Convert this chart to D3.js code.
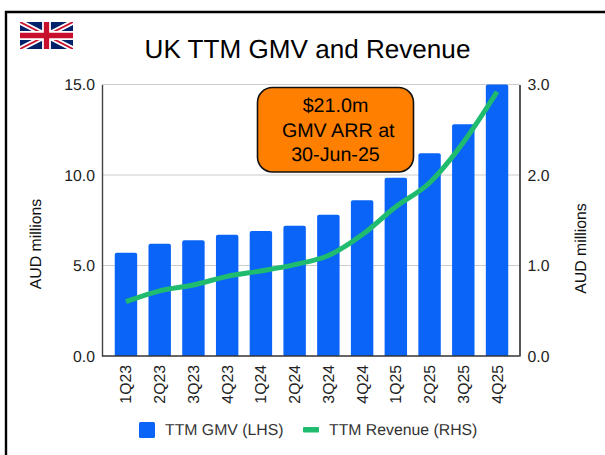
<!DOCTYPE html>
<html><head><meta charset="utf-8">
<script src="https://cdnjs.cloudflare.com/ajax/libs/d3/7.8.5/d3.min.js"></script>
<style>html,body{margin:0;padding:0;background:#fff}svg{display:block}text{font-family:"Liberation Sans",Arial,sans-serif;text-rendering:geometricPrecision;white-space:pre}</style>
</head><body><svg id="c" width="605" height="455"></svg>
<script>
const categories=["1Q23","2Q23","3Q23","4Q23","1Q24","2Q24","3Q24","4Q24","1Q25","2Q25","3Q25","4Q25"];
const gmv=[5.7,6.2,6.4,6.7,6.9,7.2,7.8,8.6,9.85,11.2,12.8,15.0];
const revenue=[0.6,0.72,0.785,0.88,0.94,1.01,1.11,1.34,1.65,1.915,2.36,2.92];
const leftTicks=[0,5,10,15];
const rightTicks=[0,1,2,3];
const calloutLines=["$21.0m"," GMV ARR at","30-Jun-25"];
const titleText="UK TTM GMV and Revenue";
const legendLabels=["TTM GMV (LHS)","TTM Revenue (RHS)"];
const axisTitle="AUD millions";

const svg=d3.select("#c");
const plot={l:102,r:519.5,t:84.5,b:356};
const x=d3.scaleBand().domain(categories).range([109.1,513.9]).paddingInner(0.335).paddingOuter(0.1675);
const yL=d3.scaleLinear().domain([0,15]).range([plot.b,plot.t]);
const yR=d3.scaleLinear().domain([0,3]).range([plot.b,plot.t]);

// frame
svg.append("path").attr("d","M6,455V12H605").attr("fill","none").attr("stroke","#000").attr("stroke-width",2.4);

// flag
const flag=svg.append("svg").attr("x",20).attr("y",22).attr("width",53).attr("height",27).attr("viewBox","0 0 60 30").attr("preserveAspectRatio","none");
flag.append("clipPath").attr("id","fc").append("rect").attr("width",60).attr("height",30);
const fg=flag.append("g").attr("clip-path","url(#fc)");
fg.append("rect").attr("width",60).attr("height",30).attr("fill","#012169");
fg.append("path").attr("d","M0,0L60,30M60,0L0,30").attr("stroke","#fff").attr("stroke-width",6);
fg.append("path").attr("d","M0,0L60,30M60,0L0,30").attr("stroke","#C8102E").attr("stroke-width",2);
fg.append("path").attr("d","M30,0V30M0,15H60").attr("stroke","#fff").attr("stroke-width",10);
fg.append("path").attr("d","M30,0V30M0,15H60").attr("stroke","#C8102E").attr("stroke-width",6);

// title
svg.append("text").attr("x",307.5).attr("y",58).attr("text-anchor","middle").attr("font-size",26.1).attr("fill","#000").text(titleText);

// grid
svg.append("g").selectAll("line").data(leftTicks.filter(d=>d>0)).join("line")
 .attr("x1",plot.l).attr("x2",plot.r).attr("y1",d=>yL(d)).attr("y2",d=>yL(d)).attr("stroke","#ccc").attr("stroke-width",1.2);

// bars
svg.append("g").selectAll("path").data(categories).join("path")
 .attr("fill","#0b64f8")
 .attr("d",(c,i)=>{const X=x(c),w=x.bandwidth(),Y=yL(gmv[i]),r=2;
   return `M${X},${plot.b}V${Y+r}Q${X},${Y} ${X+r},${Y}H${X+w-r}Q${X+w},${Y} ${X+w},${Y+r}V${plot.b}Z`;});

// axes
function styleAxis(g,color){g.select(".domain").attr("stroke",color).attr("stroke-width",1.4);
 g.selectAll("text").attr("font-size",15.8).attr("fill","#222");}
const gl=svg.append("g").attr("transform",`translate(${plot.l},0)`)
 .call(d3.axisLeft(yL).tickValues(leftTicks).tickFormat(d3.format(".1f")).tickSize(0).tickSizeOuter(0).tickPadding(7));
styleAxis(gl,"#444");
const gr=svg.append("g").attr("transform",`translate(${plot.r},0)`)
 .call(d3.axisRight(yR).tickValues(rightTicks).tickFormat(d3.format(".1f")).tickSize(0).tickSizeOuter(0).tickPadding(8));
styleAxis(gr,"#111");
const gb=svg.append("g").attr("transform",`translate(0,${plot.b})`)
 .call(d3.axisBottom(x).tickSize(0).tickSizeOuter(0));
gb.select(".domain").remove();
gb.selectAll("text").attr("font-size",15.8).attr("fill","#222")
 .attr("transform","rotate(-90)").attr("text-anchor","end").attr("x",-9).attr("y",0).attr("dy","0.35em");
svg.append("line").attr("x1",plot.l).attr("x2",plot.r).attr("y1",plot.b).attr("y2",plot.b).attr("stroke","#333").attr("stroke-width",1.3);

// line
const line=d3.line().x((d,i)=>x(categories[i])+x.bandwidth()/2).y(d=>yR(d)).curve(d3.curveMonotoneX);
svg.append("path").datum(revenue).attr("d",line).attr("fill","none").attr("stroke","#1fbb6e").attr("stroke-width",5);

// axis titles
[[41,244],[586,248.5]].forEach(p=>{
 svg.append("text").attr("transform",`translate(${p[0]},${p[1]}) rotate(-90)`).attr("text-anchor","middle").attr("font-size",15.8).attr("fill","#111").text(axisTitle);
});

// callout
svg.append("rect").attr("x",257.5).attr("y",87.5).attr("width",156).attr("height",84.5).attr("rx",15).attr("fill","#ff8000").attr("stroke","#111").attr("stroke-width",1.6);
svg.append("g").selectAll("text").data(calloutLines).join("text")
 .attr("x",335.5).attr("y",(d,i)=>112+i*24.5).attr("text-anchor","middle").attr("font-size",19.7).attr("fill","#000").text(d=>d);

// legend
svg.append("rect").attr("x",139).attr("y",422).attr("width",16).attr("height",16).attr("rx",1.5).attr("fill","#0b64f8");
svg.append("text").attr("x",165).attr("y",435).attr("font-size",15.8).attr("fill","#333").text(legendLabels[0]);
svg.append("rect").attr("x",303).attr("y",427).attr("width",16).attr("height",5.5).attr("rx",1).attr("fill","#1fbb6e");
svg.append("text").attr("x",329).attr("y",435).attr("font-size",15.8).attr("fill","#333").text(legendLabels[1]);
</script></body></html>
